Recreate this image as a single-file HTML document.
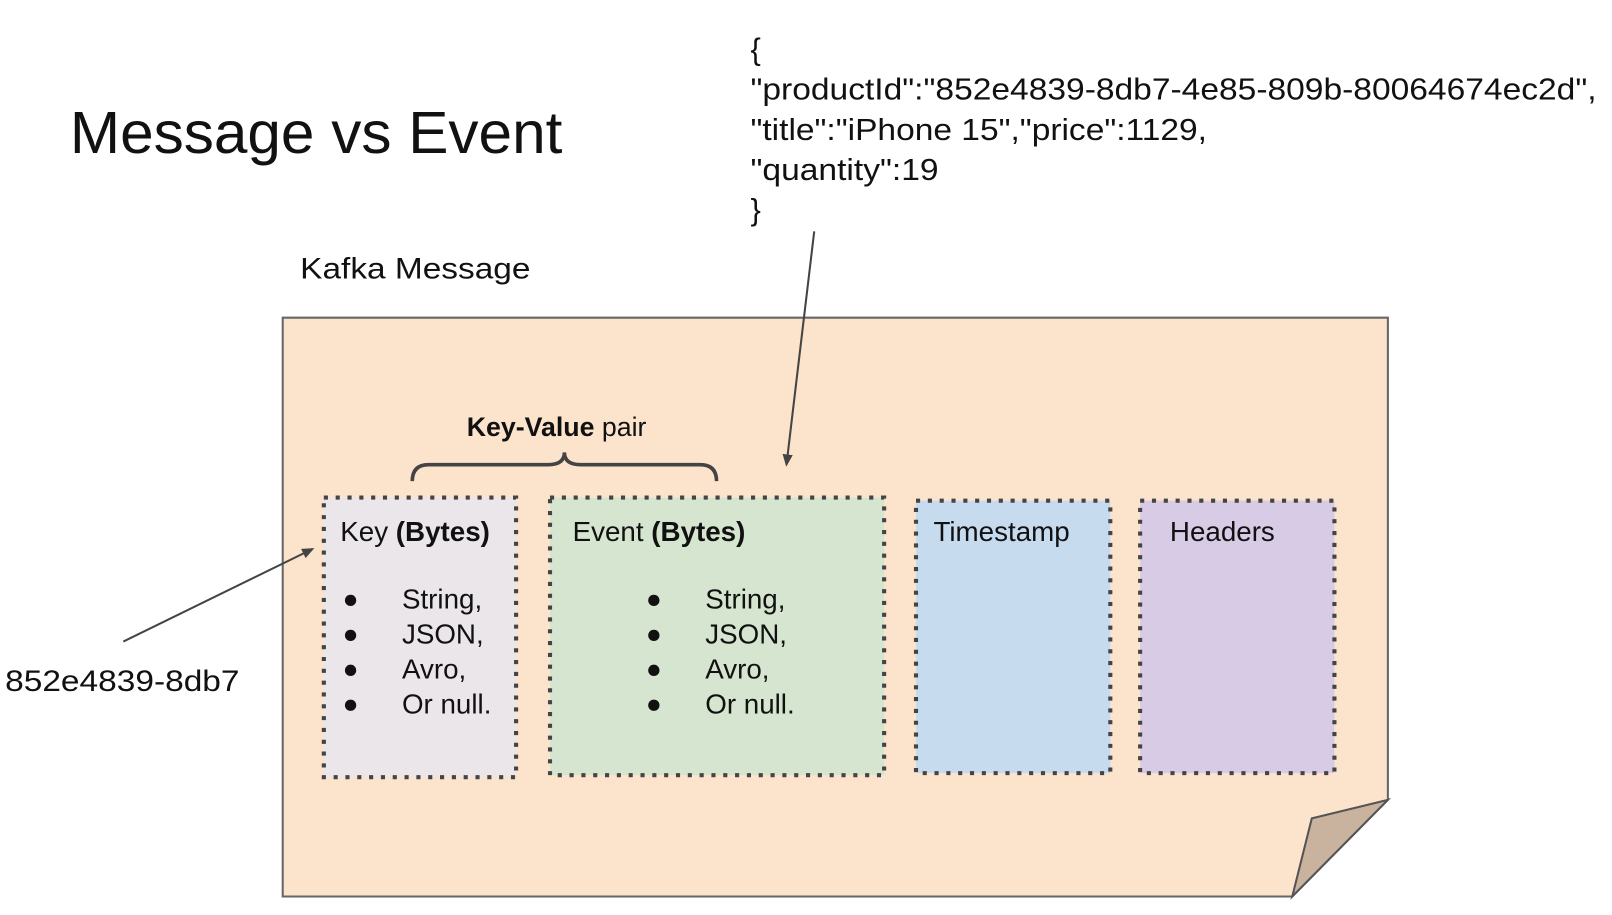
<!DOCTYPE html>
<html><head><style>
html,body{margin:0;padding:0;background:#fff;}
svg{display:block;}
text{font-family:"Liberation Sans",Arial,sans-serif;fill:#111;}
</style></head><body>
<svg width="1612" height="915" viewBox="0 0 1568 890" preserveAspectRatio="none" xmlns="http://www.w3.org/2000/svg">
<defs>
<marker id="ah" markerWidth="12" markerHeight="10" refX="10" refY="5" orient="auto" markerUnits="userSpaceOnUse">
<path d="M0,0 L12,5 L0,10 z" fill="#444"/>
</marker>
</defs>
<rect width="1568" height="890" fill="#fff"/>
<text x="68" y="149" font-size="58" textLength="479" lengthAdjust="spacingAndGlyphs">Message vs Event</text>
<g font-size="30">
<text x="730" y="58">{</text>
<text x="730" y="97" textLength="823" lengthAdjust="spacingAndGlyphs">"productId":"852e4839-8db7-4e85-809b-80064674ec2d",</text>
<text x="730" y="136" textLength="444" lengthAdjust="spacingAndGlyphs">"title":"iPhone 15","price":1129,</text>
<text x="730" y="175" textLength="183" lengthAdjust="spacingAndGlyphs">"quantity":19</text>
<text x="730" y="214">}</text>
</g>
<text x="292" y="271" font-size="29" textLength="224" lengthAdjust="spacingAndGlyphs">Kafka Message</text>
<path d="M275,309 L1350,309 L1350,778 L1257,872 L275,872 Z" fill="#fce3cc" stroke="#666" stroke-width="2"/>
<path d="M1350,778 L1276,796 L1257,872 Z" fill="#c9b39f" stroke="#555" stroke-width="2"/>
<text x="454" y="424" font-size="26"><tspan font-weight="bold">Key-Value</tspan> pair</text>
<path d="M401,468 Q401,452 417,452 L533,452 Q549,452 549,440 Q549,452 565,452 L681,452 Q697,452 697,468" fill="none" stroke="#444" stroke-width="3.5"/>
<g stroke="#444" stroke-width="4" stroke-dasharray="4 7.5">
<rect x="315" y="484" width="187" height="272" fill="#ebe6ea"/>
<rect x="535" y="484" width="325" height="270" fill="#d5e5cf"/>
<rect x="891" y="487" width="189" height="265" fill="#c7dbef"/>
<rect x="1109" y="487" width="189" height="265" fill="#d8cbe5"/>
</g>
<g font-size="27">
<text x="331" y="526">Key <tspan font-weight="bold">(Bytes)</tspan></text>
<text x="557" y="526">Event <tspan font-weight="bold">(Bytes)</tspan></text>
<text x="908" y="526">Timestamp</text>
<text x="1138" y="526">Headers</text>
<text x="391" y="592">String,</text>
<text x="391" y="626">JSON,</text>
<text x="391" y="660">Avro,</text>
<text x="391" y="694">Or null.</text>
<text x="686" y="592">String,</text>
<text x="686" y="626">JSON,</text>
<text x="686" y="660">Avro,</text>
<text x="686" y="694">Or null.</text>
</g>
<g fill="#111">
<circle cx="341" cy="584" r="5.5"/><circle cx="341" cy="618" r="5.5"/><circle cx="341" cy="652" r="5.5"/><circle cx="341" cy="686" r="5.5"/>
<circle cx="636" cy="584" r="5.5"/><circle cx="636" cy="618" r="5.5"/><circle cx="636" cy="652" r="5.5"/><circle cx="636" cy="686" r="5.5"/>
</g>
<line x1="120" y1="624" x2="304" y2="534" stroke="#444" stroke-width="2" marker-end="url(#ah)"/>
<line x1="792" y1="225" x2="765" y2="452" stroke="#444" stroke-width="2" marker-end="url(#ah)"/>
<text x="5" y="672" font-size="29" textLength="228" lengthAdjust="spacingAndGlyphs">852e4839-8db7</text>
</svg>
</body></html>
